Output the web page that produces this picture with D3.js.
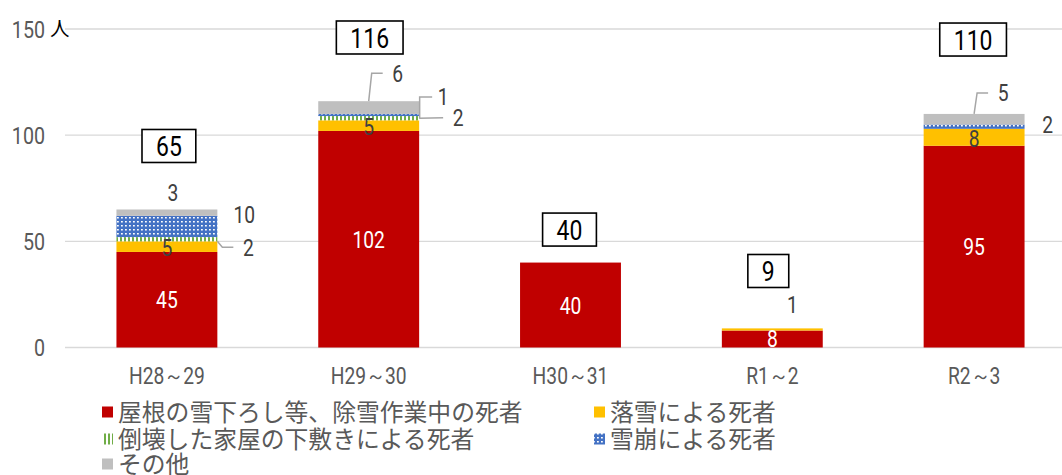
<!DOCTYPE html>
<html><head><meta charset="utf-8">
<script src="https://cdn.jsdelivr.net/npm/d3@7"></script>
<style>body{margin:0;background:#fff}</style>
</head><body><svg id="c" width="1062" height="475"></svg>
<script>
const categories = ["H28～29","H29～30","H30～31","R1～2","R2～3"];
const seriesNames = ["屋根の雪下ろし等、除雪作業中の死者","落雪による死者","倒壊した家屋の下敷きによる死者","雪崩による死者","その他"];
const roofWork   = [45,102,40,8,95];
const fallingSnow= [5,5,0,1,8];
const collapse   = [2,2,0,0,0];
const avalanche  = [10,1,0,0,2];
const other      = [3,6,0,0,5];
const totals     = [65,116,40,9,110];
const yTicks     = [0,50,100,150];
const yUnit      = "人";

// annotation layout (offsets only)
const boxOffsets = [[2,-63.5],[1,-63.7],[-1,-33],[-4,-57.4],[-1,-74.4]];
const outside = [
  {c:0,s:4,anchor:"ctop",dx:6,dy:-17,leader:null},
  {c:0,s:3,anchor:"rmid",dx:27,dy:-11.5,leader:null},
  {c:0,s:2,anchor:"rmid",dx:31,dy:8,leader:"diag"},
  {c:1,s:4,anchor:"ctop",dx:29,dy:-28,leader:"up"},
  {c:1,s:3,anchor:"rmid",dx:24,dy:-18,leader:"upr"},
  {c:1,s:2,anchor:"rmid",dx:39,dy:-0.5,leader:"horiz"},
  {c:3,s:1,anchor:"ctop",dx:20,dy:-23.5,leader:null},
  {c:4,s:4,anchor:"ctop",dx:29,dy:-21,leader:"up"},
  {c:4,s:3,anchor:"rmid",dx:23,dy:-2.5,leader:null}
];

const colors = ["#C00000","#FFC000","url(#pGreen)","url(#pBlue)","#BFBFBF"];
const numFont = "Roboto,'Liberation Sans',sans-serif";
const jpFont = "'Noto Sans CJK JP','Noto Sans',sans-serif";
const SX = 0.82;

const svg = d3.select("#c");
const defs = svg.append("defs");
const pg = defs.append("pattern").attr("id","pGreen").attr("patternUnits","userSpaceOnUse").attr("width",4).attr("height",4);
pg.append("rect").attr("width",4).attr("height",4).attr("fill","#fff");
pg.append("rect").attr("width",2).attr("height",4).attr("fill","#70AD47");
const pb = defs.append("pattern").attr("id","pBlue").attr("patternUnits","userSpaceOnUse").attr("width",4).attr("height",4);
pb.append("rect").attr("width",4).attr("height",4).attr("fill","#4472C4");
pb.append("rect").attr("x",1).attr("y",1).attr("width",1.8).attr("height",1.5).attr("fill","#fff");

const x = d3.scaleBand().domain(categories).range([66,1075]).paddingInner(0.5).paddingOuter(0.25);
const y = d3.scaleLinear().domain([0,150]).range([347.5,29]);

// condensed numeric text helper
function numText(parent, px, py, txt, opts){
  const o = Object.assign({size:23.5, fill:"#404040", anchor:"middle", dy:"0.36em"}, opts||{});
  return parent.append("text")
    .attr("transform",`translate(${px},${py}) scale(${SX},1)`)
    .attr("text-anchor",o.anchor).attr("dy",o.dy)
    .attr("font-family",numFont).attr("font-size",o.size).attr("fill",o.fill).text(txt);
}

// grid
svg.append("g").selectAll("line").data(yTicks).join("line")
  .attr("x1",65).attr("x2",1062).attr("y1",d=>y(d)).attr("y2",d=>y(d))
  .attr("stroke","#D9D9D9").attr("stroke-width",1.3);

// y axis labels
const yl = svg.append("g");
yTicks.forEach(t=>numText(yl,45,y(t),t,{anchor:"end",fill:"#595959",size:24}));
yl.append("text").attr("x",50).attr("y",y(150)).attr("dy","0.35em")
  .attr("font-family",jpFont).attr("font-size",19.5).attr("fill","#000").text(yUnit);

// stack
const rows = categories.map((c,i)=>({cat:c, v0:roofWork[i], v1:fallingSnow[i], v2:collapse[i], v3:avalanche[i], v4:other[i]}));
const keys = ["v0","v1","v2","v3","v4"];
const stacked = d3.stack().keys(keys)(rows);

svg.append("g").selectAll("g").data(stacked).join("g")
  .attr("fill",(d,i)=>colors[i])
  .selectAll("rect").data(d=>d.filter(p=>p[1]-p[0]>0)).join("rect")
  .attr("x",d=>x(d.data.cat)).attr("width",x.bandwidth())
  .attr("y",d=>y(d[1])).attr("height",d=>y(d[0])-y(d[1]));

// inside labels
const ig = svg.append("g");
stacked.forEach((s,si)=>{
  s.forEach(p=>{
    const v = p[1]-p[0];
    const cx = x(p.data.cat)+x.bandwidth()/2, cy = y((p[0]+p[1])/2);
    if (si===0 && v>0) numText(ig,cx,cy,v,{fill:"#fff"});
    if (si===1 && v>=5) numText(ig,cx,cy+1,v,{fill:"#404040"});
  });
});

// outside labels + leaders
const og = svg.append("g");
outside.forEach(o=>{
  const p = stacked[o.s][o.c];
  const left = x(categories[o.c]), bw = x.bandwidth();
  let ax, ay;
  if (o.anchor==="ctop"){ ax = left+bw/2; ay = y(p[1]); }
  else { ax = left+bw; ay = y((p[0]+p[1])/2); }
  const lx = ax+o.dx, ly = ay+o.dy;
  if (o.leader){
    let pts;
    if (o.leader==="up") pts = [[ax,ay],[ax+3,ly],[lx-15,ly]];
    else if (o.leader==="upr") pts = [[ax+0.5,ay+3],[ax+0.5,ly],[lx-11,ly]];
    else if (o.leader==="horiz") pts = [[ax,ay],[lx-15,ly]];
    else pts = [[ax,ay+2],[ax+5,ly],[lx-15,ly]];
    og.append("path").attr("d",d3.line()(pts)).attr("fill","none").attr("stroke","#A6A6A6").attr("stroke-width",1.5);
  }
  numText(og,lx,ly,p[1]-p[0],{fill:"#404040"});
});

// total boxes
const bg = svg.append("g");
totals.forEach((t,i)=>{
  const cx = x(categories[i])+x.bandwidth()/2+boxOffsets[i][0];
  const cy = y(t)+boxOffsets[i][1];
  const g = bg.append("g");
  const rect = g.append("rect");
  const tx = numText(g,cx,cy,t,{size:28,fill:"#000"});
  const w = tx.node().getComputedTextLength()*SX+28;
  rect.attr("x",cx-w/2).attr("y",cy-16.5).attr("width",w).attr("height",33)
    .attr("fill","#fff").attr("stroke","#000").attr("stroke-width",1.6);
});

// x axis labels
const xg = svg.append("g");
categories.forEach(c=>numText(xg,x(c)+x.bandwidth()/2,376,c,{fill:"#595959",size:23.5}));

// legend
const legendPos = [[102,412],[594,412],[102,439],[594,439],[102,464]];
const lg = svg.append("g");
seriesNames.forEach((n,i)=>{
  const [mx,my] = legendPos[i];
  lg.append("rect").attr("x",mx).attr("y",my-5.5).attr("width",11).attr("height",11).attr("fill",colors[i]);
  lg.append("text").attr("x",mx+16).attr("y",my).attr("dy","0.36em")
    .attr("font-family",jpFont).attr("font-size",23.8).attr("fill","#595959").text(n);
});
</script></body></html>
